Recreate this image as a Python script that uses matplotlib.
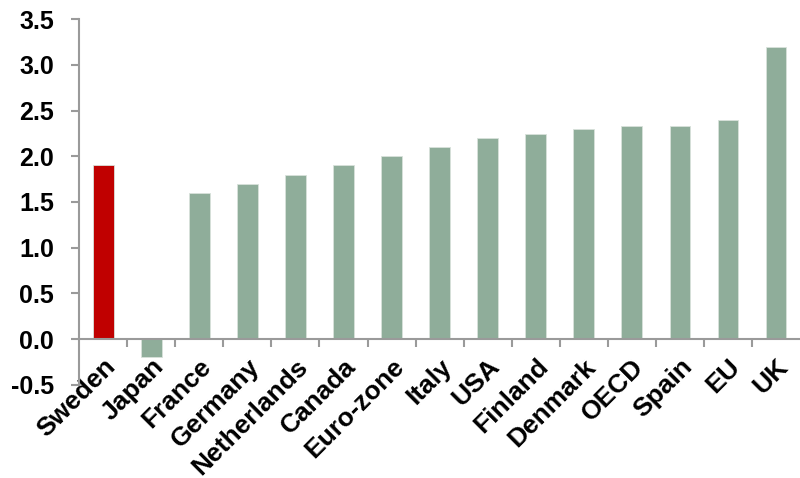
import matplotlib
matplotlib.use("Agg")
import matplotlib.pyplot as plt
import numpy as np

categories = ["Sweden", "Japan", "France", "Germany", "Netherlands", "Canada",
              "Euro-zone", "Italy", "USA", "Finland", "Denmark", "OECD",
              "Spain", "EU", "UK"]
values = [1.9, -0.2, 1.6, 1.7, 1.8, 1.9, 2.0, 2.1, 2.2, 2.24, 2.3, 2.33,
          2.33, 2.4, 3.2]
yticks = [-0.5, 0.0, 0.5, 1.0, 1.5, 2.0, 2.5, 3.0, 3.5]

green = "#8FAD9A"
red = "#C00000"
axis_gray = "#9A9A9A"

plt.rcParams["font.family"] = ["Liberation Sans", "DejaVu Sans"]
plt.rcParams["font.weight"] = "bold"

fig = plt.figure(figsize=(8.0, 4.78), dpi=100)
ax = fig.add_axes([0.099, 0.195, 0.901, 0.765])

x = np.arange(len(categories))
colors = [red if c == "Sweden" else green for c in categories]
ax.bar(x, values, width=0.43, color=colors, edgecolor="#D8E2DB",
       linewidth=0.6, zorder=2)

ax.set_xlim(-0.5, len(categories) - 0.5)
ax.set_ylim(-0.5, 3.5)
ax.set_yticks(yticks)
ax.set_yticklabels([f"{v:.1f}" for v in yticks], fontsize=18,
                   fontweight="bold")

for side in ("top", "right"):
    ax.spines[side].set_visible(False)
ax.spines["bottom"].set_position(("data", 0))
ax.spines["bottom"].set_color(axis_gray)
ax.spines["left"].set_color(axis_gray)
ax.spines["bottom"].set_linewidth(1.5)
ax.spines["left"].set_linewidth(1.5)
ax.spines["bottom"].set_zorder(3)

ax.tick_params(axis="y", direction="out", length=6, width=1.5,
               color=axis_gray, pad=12)

# category labels at bar centres, tick marks between categories
ax.set_xticks(x)
ax.set_xticklabels(categories, rotation=45, ha="right",
                   rotation_mode="anchor", fontsize=19, fontweight="bold")
ax.tick_params(axis="x", which="major", length=0, pad=11)
ax.set_xticks(np.arange(0.5, len(categories) - 0.5, 1.0), minor=True)
ax.tick_params(axis="x", which="minor", direction="out", length=6,
               width=1.5, color=axis_gray)

fig.savefig("out.png", dpi=100)
